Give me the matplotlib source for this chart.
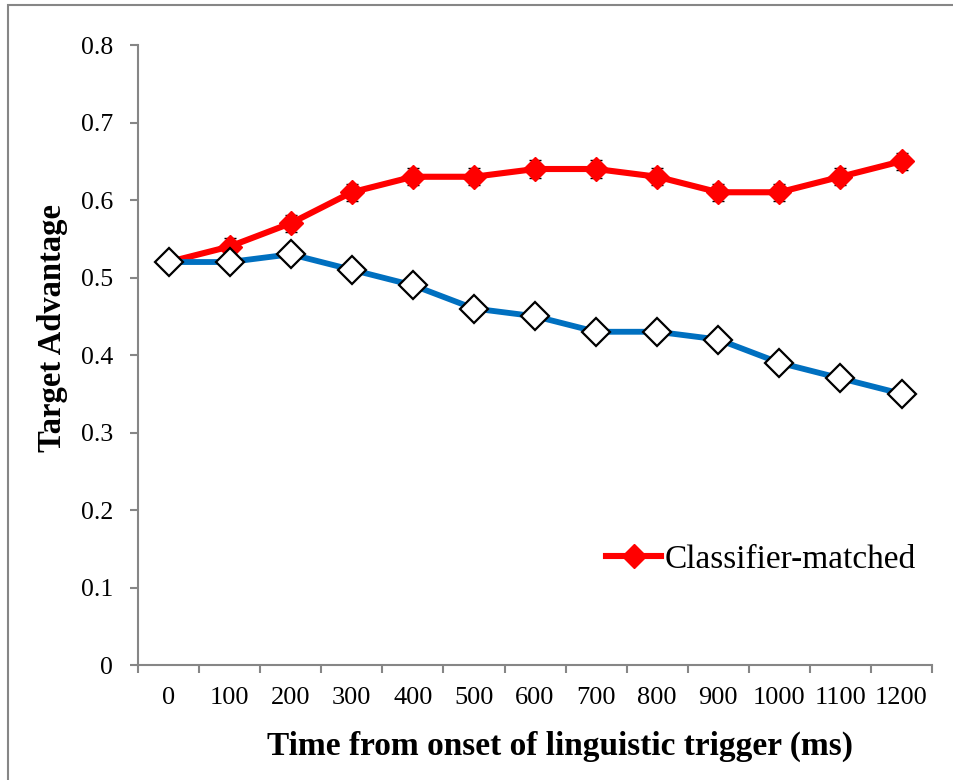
import matplotlib.pyplot as plt
from matplotlib.patches import Rectangle
from matplotlib.lines import Line2D

times = [0, 100, 200, 300, 400, 500, 600, 700, 800, 900, 1000, 1100, 1200]
matched = [0.52, 0.54, 0.57, 0.61, 0.63, 0.63, 0.64, 0.64, 0.63, 0.61, 0.61, 0.63, 0.65]
matched_err = [0.0, 0.011, 0.011, 0.011, 0.011, 0.011, 0.011, 0.011, 0.011, 0.011, 0.011, 0.011, 0.011]
mismatched = [0.52, 0.52, 0.53, 0.51, 0.49, 0.46, 0.45, 0.43, 0.43, 0.42, 0.39, 0.37, 0.35]
mismatched_err = [0.0, 0.01, 0.01, 0.01, 0.01, 0.01, 0.01, 0.01, 0.01, 0.01, 0.01, 0.01, 0.01]
y_ticks = [0, 0.1, 0.2, 0.3, 0.4, 0.5, 0.6, 0.7, 0.8]

serif = ['Liberation Serif', 'DejaVu Serif']
grey = '#868686'
red = '#FF0000'
blue = '#0070C0'

fig = plt.figure(figsize=(9.54, 7.8), dpi=100)
ax = fig.add_axes([0.1447, 0.1474, 0.977 - 0.1447, 0.9423 - 0.1474])

# outer chart frame (only left and top edges show in the original)
fig.patches.append(Rectangle((8 / 954, -0.1), 1.2, 1 - 5 / 780 + 0.1,
                             transform=fig.transFigure, fill=False,
                             edgecolor=grey, linewidth=1.5))

x = list(range(len(times)))

ax.errorbar(x, matched, yerr=matched_err, color=red, linewidth=4.4,
            marker='D', markersize=12, markerfacecolor=red,
            markeredgecolor=red, ecolor='black', elinewidth=1,
            capsize=4.5, capthick=1, zorder=3)
ax.errorbar(x, mismatched, yerr=mismatched_err, color=blue, linewidth=4.2,
            marker='D', markersize=14, markerfacecolor='white',
            markeredgecolor='black', markeredgewidth=1.6,
            ecolor='black', elinewidth=1, capsize=4.5, capthick=1, zorder=4)

ax.set_xlim(-0.5, len(times) - 0.5)
ax.set_ylim(0, 0.8)
ax.set_yticks(y_ticks)
ax.set_yticklabels([f'{t:g}' for t in y_ticks], fontsize=18.5, family=serif)
ax.set_xticks(x)
ax.set_xticklabels([str(t) for t in times], fontsize=19, family=serif)
ax.set_xticks([i - 0.5 for i in range(len(times) + 1)], minor=True)
ax.tick_params(axis='x', which='major', length=0, pad=16)
ax.tick_params(axis='x', which='minor', length=6, color=grey, width=1.5)
ax.tick_params(axis='y', length=6, color=grey, width=1.5, pad=12)

for s in ['top', 'right']:
    ax.spines[s].set_visible(False)
for s in ['left', 'bottom']:
    ax.spines[s].set_color(grey)
    ax.spines[s].set_linewidth(1.5)

ax.set_xlabel('Time from onset of linguistic trigger (ms)', fontsize=24,
              fontweight='bold', family=serif)
ax.xaxis.set_label_coords(0.5315, -0.106)
ax.set_ylabel('Target Advantage', fontsize=23.5, fontweight='bold',
              family=serif)
ax.yaxis.set_label_coords(-0.088, 0.544)

handle = Line2D([], [], color=red, linewidth=4.4, marker='D', markersize=12,
                markerfacecolor=red, markeredgecolor=red)
ax.legend(handles=[handle], labels=['Classifier-matched'], loc='center left',
          bbox_to_anchor=(0.552, 0.17), frameon=False,
          prop={'family': serif, 'size': 24}, handlelength=1.65,
          handletextpad=0.1)

fig.savefig('out.png', dpi=100)
